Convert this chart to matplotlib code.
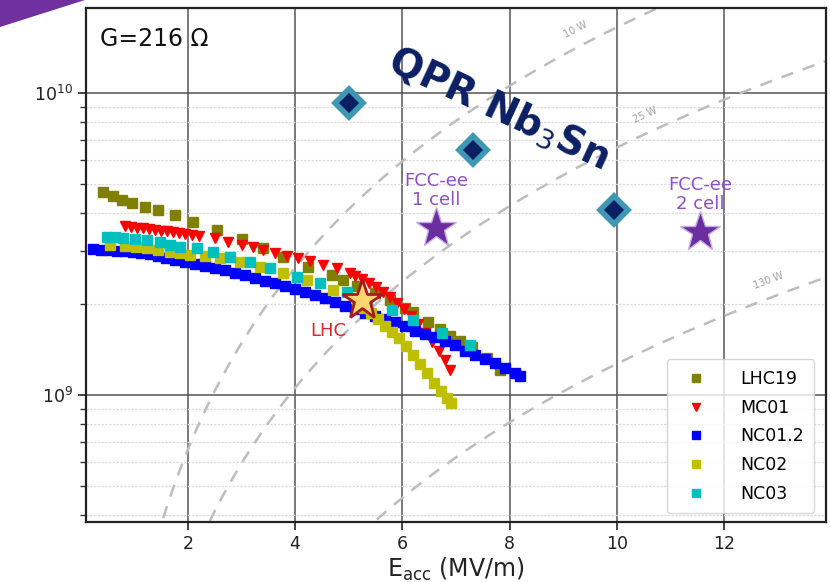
import numpy as np
import matplotlib
matplotlib.use("Agg")
import matplotlib.pyplot as plt
from matplotlib.patches import Polygon

# ---------------- data ----------------
lhc19_E = [0.42, 0.60, 0.77, 0.96, 1.20, 1.44, 1.76, 2.10, 2.54, 3.01, 3.40, 3.77, 4.24, 4.69,
           4.89, 5.15, 5.49, 5.77, 6.05, 6.20, 6.48, 6.70, 6.89, 7.08, 7.30, 7.58, 7.82]
lhc19_Q = [4.70e9, 4.56e9, 4.42e9, 4.32e9, 4.19e9, 4.10e9, 3.95e9, 3.74e9, 3.52e9, 3.29e9, 3.07e9,
           2.86e9, 2.65e9, 2.50e9, 2.40e9, 2.30e9, 2.18e9, 2.06e9, 1.95e9, 1.88e9, 1.75e9, 1.65e9,
           1.57e9, 1.51e9, 1.44e9, 1.33e9, 1.21e9]

mc01_E = [0.83, 0.94, 1.05, 1.16, 1.27, 1.39, 1.50, 1.61, 1.72, 1.83, 1.95, 2.08, 2.21, 2.51, 2.75,
          3.01, 3.22, 3.40, 3.62, 3.85, 4.05, 4.28, 4.52, 4.78, 5.02, 5.12, 5.25, 5.38, 5.51, 5.64,
          5.77, 5.90, 6.03, 6.16, 6.29, 6.42, 6.55, 6.69, 6.80, 6.89]
mc01_Q = [3.63e9, 3.60e9, 3.57e9, 3.57e9, 3.55e9, 3.52e9, 3.49e9, 3.49e9, 3.47e9, 3.44e9, 3.41e9,
          3.39e9, 3.36e9, 3.31e9, 3.21e9, 3.14e9, 3.09e9, 3.02e9, 2.95e9, 2.89e9, 2.84e9, 2.78e9,
          2.69e9, 2.63e9, 2.54e9, 2.48e9, 2.42e9, 2.35e9, 2.28e9, 2.19e9, 2.11e9, 2.02e9, 1.93e9,
          1.83e9, 1.72e9, 1.60e9, 1.50e9, 1.40e9, 1.31e9, 1.21e9]

nc012_E = [0.23, 0.38, 0.53, 0.68, 0.83, 0.98, 1.13, 1.29, 1.44, 1.59, 1.76, 1.95, 2.13, 2.32, 2.51,
           2.69, 2.88, 3.07, 3.25, 3.44, 3.63, 3.81, 4.00, 4.18, 4.37, 4.56, 4.74, 4.93, 5.12, 5.30,
           5.49, 5.68, 5.86, 6.05, 6.24, 6.42, 6.61, 6.80, 6.98, 7.17, 7.36, 7.54, 7.73, 7.92, 8.10,
           8.20]
nc012_Q = [3.04e9, 3.02e9, 3.02e9, 3.00e9, 3.00e9, 2.97e9, 2.95e9, 2.93e9, 2.89e9, 2.84e9, 2.80e9,
           2.76e9, 2.72e9, 2.67e9, 2.63e9, 2.59e9, 2.54e9, 2.50e9, 2.44e9, 2.38e9, 2.35e9, 2.30e9,
           2.24e9, 2.19e9, 2.14e9, 2.10e9, 2.03e9, 1.97e9, 1.93e9, 1.87e9, 1.83e9, 1.79e9, 1.74e9,
           1.70e9, 1.63e9, 1.59e9, 1.56e9, 1.51e9, 1.46e9, 1.40e9, 1.36e9, 1.32e9, 1.28e9, 1.23e9,
           1.18e9, 1.16e9]

nc02_E = [0.55, 0.83, 1.04, 1.24, 1.45, 1.67, 1.85, 2.04, 2.32, 2.60, 2.97, 3.35, 3.78, 4.22, 4.71,
          5.15, 5.29, 5.42, 5.55, 5.68, 5.81, 5.94, 6.07, 6.20, 6.33, 6.46, 6.59, 6.72, 6.83, 6.91]
nc02_Q = [3.14e9, 3.11e9, 3.09e9, 3.07e9, 3.03e9, 2.98e9, 2.95e9, 2.91e9, 2.88e9, 2.84e9, 2.76e9,
          2.65e9, 2.54e9, 2.40e9, 2.23e9, 2.03e9, 1.95e9, 1.87e9, 1.78e9, 1.69e9, 1.62e9, 1.55e9,
          1.45e9, 1.36e9, 1.27e9, 1.18e9, 1.10e9, 1.03e9, 0.977e9, 0.941e9]

nc03_E = [0.49, 0.64, 0.79, 1.01, 1.24, 1.48, 1.67, 1.85, 2.17, 2.47, 2.79, 3.16, 3.53, 4.04, 4.46,
          4.97, 5.34, 5.81, 6.20, 6.74, 7.26]
nc03_Q = [3.34e9, 3.34e9, 3.31e9, 3.29e9, 3.26e9, 3.21e9, 3.14e9, 3.09e9, 3.07e9, 2.98e9, 2.86e9,
          2.76e9, 2.63e9, 2.46e9, 2.35e9, 2.19e9, 2.06e9, 1.91e9, 1.77e9, 1.60e9, 1.47e9]

series_names = ["LHC19", "MC01", "NC01.2", "NC02", "NC03"]

qpr_E = [5.01, 7.32, 9.95]
qpr_Q = [9.27e9, 6.48e9, 4.10e9]

lhc_E, lhc_Q = 5.25, 2.06e9
fcc_E = [6.63, 11.55]
fcc_Q = [3.57e9, 3.47e9]
fcc_labels = ["FCC-ee\n1 cell", "FCC-ee\n2 cell"]

power_W = [10, 25, 130]
power_const = 1.65e9          # Q0 = const * E^2 / P
power_label_E = [9.35, 10.65, 12.95]
power_labels = ["10 W", "25 W", "130 W"]

xticks = [2, 4, 6, 8, 10, 12]

# ---------------- figure ----------------
fig = plt.figure(figsize=(8.3, 5.82), dpi=100)
ax = fig.add_axes([0.1036, 0.103, 0.8914, 0.883])

xmin, xmax = 0.1, 13.9
ymin, ymax = 3.8e8, 1.91e10
ax.set_xlim(xmin, xmax)
ax.set_yscale("log")
ax.set_ylim(ymin, ymax)

# grids
ax.grid(True, which="major", color="#555555", lw=1.1, zorder=0)
ax.grid(True, which="minor", axis="y", color="#dddddd", lw=0.9, ls=(0, (2, 1)), zorder=0)
ax.set_axisbelow(True)

# power curves
Ecurve = np.linspace(0.05, 14.5, 400)
for P, lab, Elab in zip(power_W, power_labels, power_label_E):
    Qc = power_const * Ecurve ** 2 / P
    ax.plot(Ecurve, Qc, color="#bdbdbd", lw=1.8, ls=(0, (5, 4)), zorder=1)
    ql = power_const * Elab ** 2 / P
    p1 = ax.transData.transform((Elab, ql))
    p2 = ax.transData.transform((Elab + 0.1, power_const * (Elab + 0.1) ** 2 / P))
    ang = np.degrees(np.arctan2(p2[1] - p1[1], p2[0] - p1[0]))
    ax.annotate(lab, (Elab, ql), xytext=(-3, 8), textcoords="offset points",
                rotation=ang, rotation_mode="anchor", ha="center", va="bottom",
                fontsize=7, color="#a0a0a0", zorder=2)

ms = 7
ax.plot(lhc19_E, lhc19_Q, ls="none", marker="s", ms=ms, color="olive", label=series_names[0], zorder=3)
ax.plot(mc01_E, mc01_Q, ls="none", marker="v", ms=ms, color="red", label=series_names[1], zorder=3)
ax.plot(nc012_E, nc012_Q, ls="none", marker="s", ms=7.5, color="blue", label=series_names[2], zorder=3)
ax.plot(nc02_E, nc02_Q, ls="none", marker="s", ms=ms, color=(0.75, 0.75, 0), label=series_names[3], zorder=3)
ax.plot(nc03_E, nc03_Q, ls="none", marker="s", ms=ms, color=(0, 0.75, 0.75), label=series_names[4], zorder=3)

# QPR diamonds
ax.plot(qpr_E, qpr_Q, ls="none", marker="D", ms=14, mfc="#0b1f63", mec="#3e98b4", mew=4, zorder=5)
ax.text(7.8, 8.9e9, "QPR Nb$_3$Sn", rotation=-25, ha="center", va="center",
        fontsize=28, fontweight="bold", color="#0b1f63", family="DejaVu Sans", zorder=6)

# stars
ax.plot([lhc_E], [lhc_Q], ls="none", marker="*", ms=30, mfc="#fdd670", mec="#a61c1c", mew=2, zorder=6)
ax.text(lhc_E - 0.64, lhc_Q * 0.79, "LHC", ha="center", va="center", fontsize=13,
        color="#d42a2a", zorder=6)
ax.plot(fcc_E, fcc_Q, ls="none", marker="*", ms=30, mfc="#6a2ea0", mec="#c8a8e0", mew=1, zorder=6)
for e, q, lab in zip(fcc_E, fcc_Q, fcc_labels):
    ax.text(e, q * 1.33, lab, ha="center", va="center", fontsize=13, color="#8e50c2",
            linespacing=1.05, zorder=6)

ax.text(0.019, 0.94, "G=216 \u03a9", transform=ax.transAxes, fontsize=17, ha="left",
        va="center", color="#111111")

# axes styling
ax.set_xticks(xticks)
ax.set_xticklabels([str(t) for t in xticks])
ax.tick_params(axis="both", which="major", labelsize=12.5, length=6, width=1.2, colors="#222222")
ax.tick_params(axis="y", which="minor", length=4, width=1.0, color="#333333", labelleft=False)
for s in ax.spines.values():
    s.set_linewidth(1.6)
    s.set_color("#222222")
ax.set_xlabel("E$_{\\rm acc}$ (MV/m)", fontsize=17, labelpad=2, color="#222222")

leg = ax.legend(loc="lower right", fontsize=12.5, markerscale=0.75, labelspacing=0.62,
                handlelength=2.2, handletextpad=1.4, borderpad=0.6, framealpha=0.8,
                edgecolor="#cccccc", borderaxespad=0, bbox_to_anchor=(0.984, 0.017))
leg.set_zorder(10)

# purple slide decoration in the top-left corner
fig.patches.append(Polygon([(0, 1), (85 / 830, 1), (0, 1 - 27 / 582)], closed=True,
                           transform=fig.transFigure, facecolor="#7030a0", edgecolor="none"))

fig.savefig("out.png", dpi=100)
